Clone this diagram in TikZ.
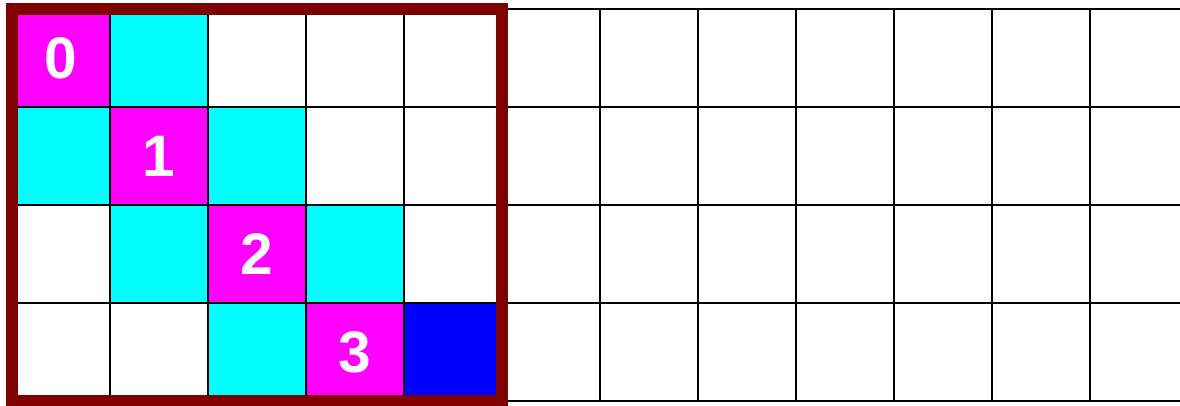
\documentclass[tikz,border=0pt]{standalone}
\usepackage{fontspec}
\setmainfont{Liberation Sans}
\usetikzlibrary{positioning}
\definecolor{diag}{HTML}{FF00FF}
\definecolor{band}{HTML}{00FFFF}
\definecolor{fillin}{HTML}{0000FF}
\definecolor{frame}{HTML}{800000}

\begin{document}
\begin{tikzpicture}[x=1cm,y=-1cm,
    cellline/.style={line width=0.6pt},
    num/.style={text=white,font=\fontsize{17}{17}\selectfont\bfseries}]
  \useasboundingbox (-0.1224,-0.0918) rectangle (11.918,4.051);
  % diagonal and neighbours
  \foreach \i in {0,...,3} {
    \fill[diag] (\i,\i) rectangle ++(1,1);
    \node[num] (d\i) at (\i+0.5,\i+0.5) {};
  }
  \foreach \i/\j in {1/0,0/1,2/1,1/2,3/2,2/3}
    \fill[band] (\i,\j) rectangle ++(1,1);
  % fill-in entry
  \fill[fillin] (4,3) rectangle ++(1,1);
  \draw[cellline] (0,0) grid (12,4);
  \foreach \i in {0,...,3}
    \node[num] at (d\i) {\i};
  % local block
  \draw[frame,line width=3.6pt] (0,0) rectangle (5,4);
\end{tikzpicture}
\end{document}
